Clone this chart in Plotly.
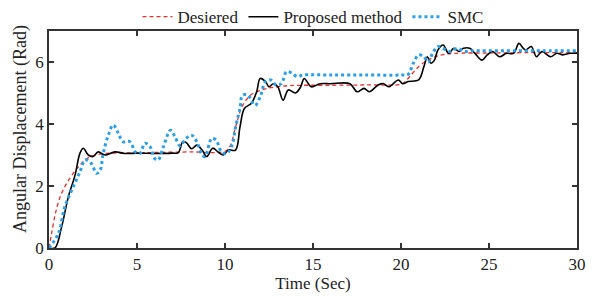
import plotly.graph_objects as go

# Desired trajectory
t_des = [0, 0.15, 0.4, 0.72, 1.2, 1.65, 2.2, 3.0, 4.0, 6.0, 8.0, 10.0, 10.3, 10.6, 11.0, 11.5, 12.0, 12.4, 13.0, 13.7, 16.0, 18.0, 20.0, 20.2, 20.6, 21.0, 21.5, 22.0, 22.4, 23.0, 25.0, 27.0, 30.0]
v_des = [0, 0.48, 1.2, 1.77, 2.26, 2.6, 2.9, 3.04, 3.06, 3.08, 3.1, 3.12, 3.3, 3.9, 4.6, 4.95, 5.08, 5.15, 5.2, 5.24, 5.25, 5.26, 5.28, 5.35, 5.6, 5.85, 6.05, 6.18, 6.24, 6.28, 6.29, 6.3, 6.3]

# Proposed method
t_pm = [0, 0.34, 0.72, 1.1, 1.48, 1.76, 1.95, 2.23, 2.5, 2.8, 3.18, 3.75, 4.3, 5.0, 6.0, 7.0, 7.35, 7.6, 7.8, 8.1, 8.4, 8.7, 8.96, 9.3, 9.6, 9.9, 10.2, 10.6, 10.85, 11.1, 11.5, 11.8, 12.0, 12.3, 12.5, 12.75, 13.0, 13.3, 13.6, 14.0, 14.3, 14.5, 14.9, 15.4, 16.0, 17.1, 17.5, 17.9, 18.2, 18.7, 19.0, 19.3, 19.85, 20.1, 20.4, 21.0, 21.3, 21.5, 21.7, 21.9, 22.1, 22.4, 22.7, 23.0, 23.3, 23.55, 23.9, 24.2, 24.6, 24.9, 25.2, 25.6, 26.0, 26.4, 26.7, 26.95, 27.1, 27.4, 27.7, 28.0, 28.5, 28.85, 29.2, 29.6, 30.0]
v_pm = [0, 0.0, 0.69, 1.65, 2.35, 3.06, 3.22, 3.0, 2.95, 3.1, 3.0, 3.1, 3.05, 3.06, 3.05, 3.06, 3.08, 3.43, 3.4, 3.2, 3.32, 3.16, 2.95, 3.22, 3.1, 3.0, 3.16, 3.16, 3.9, 4.5, 4.67, 5.04, 5.47, 5.37, 5.2, 5.3, 5.2, 4.77, 5.1, 5.0, 5.2, 5.47, 5.2, 5.3, 5.3, 5.3, 5.04, 5.15, 5.04, 5.26, 5.3, 5.2, 5.42, 5.3, 5.37, 5.42, 5.85, 6.17, 5.96, 6.06, 6.39, 6.55, 6.28, 6.44, 6.34, 6.44, 6.44, 6.28, 6.06, 6.23, 6.34, 6.17, 6.28, 6.28, 6.6, 6.44, 6.39, 6.5, 6.17, 6.34, 6.17, 6.28, 6.23, 6.28, 6.28]

# SMC
t_smc = [0, 0.53, 0.9, 1.38, 1.76, 2.05, 2.4, 2.7, 2.9, 3.08, 3.37, 3.65, 3.94, 4.2, 4.6, 4.9, 5.17, 5.45, 5.74, 6.0, 6.2, 6.5, 6.9, 7.16, 7.44, 7.8, 8.1, 8.4, 8.7, 8.87, 9.25, 9.5, 9.8, 10.1, 10.4, 10.6, 10.85, 11.0, 11.3, 11.7, 12.0, 12.3, 12.6, 12.9, 13.2, 13.5, 13.8, 14.1, 14.45, 16.0, 18.0, 20.0, 20.4, 20.7, 21.0, 21.3, 21.55, 21.8, 22.1, 22.4, 22.8, 23.2, 23.6, 24.0, 26.0, 28.0, 30.0]
v_smc = [0, 0.47, 1.33, 1.98, 2.46, 2.84, 2.73, 2.41, 2.5, 3.05, 3.64, 3.97, 3.7, 3.43, 3.43, 3.1, 3.05, 3.38, 3.27, 2.89, 2.84, 3.27, 3.8, 3.59, 3.3, 3.54, 3.64, 3.43, 3.0, 2.95, 3.54, 3.48, 3.1, 3.05, 3.32, 3.9, 4.5, 4.93, 4.93, 4.6, 4.88, 5.37, 5.42, 5.26, 5.3, 5.69, 5.64, 5.53, 5.58, 5.58, 5.58, 5.58, 5.6, 5.96, 6.23, 6.17, 6.0, 6.28, 6.5, 6.44, 6.34, 6.44, 6.34, 6.36, 6.36, 6.36, 6.36]

x_ticks = [0, 5, 10, 15, 20, 25, 30]
y_ticks = [0, 2, 4, 6]

font = dict(family="Liberation Serif, Times New Roman, serif", size=17, color="#222")
font_big = dict(family="Liberation Serif, Times New Roman, serif", size=18, color="#222")

fig = go.Figure()
fig.add_trace(go.Scatter(x=t_des, y=v_des, mode="lines", name="Desiered",
                         line=dict(color="#e6302c", width=1.3, dash="4px,3px", shape="spline")))
fig.add_trace(go.Scatter(x=t_pm, y=v_pm, mode="lines", name="Proposed method",
                         line=dict(color="black", width=1.6, shape="spline")))
fig.add_trace(go.Scatter(x=t_smc, y=v_smc, mode="lines", name="SMC",
                         line=dict(color="#2a9fe8", width=3, dash="dot", shape="spline")))

axis_common = dict(showgrid=False, zeroline=False, showline=True, linecolor="#333",
                   linewidth=1.5, mirror="ticks", ticks="inside", ticklen=5,
                   tickcolor="#333", tickwidth=1.5, tickfont=font, automargin=False)
fig.update_xaxes(range=[0, 30], tickvals=x_ticks, title=dict(text="Time (Sec)", font=font, standoff=2), **axis_common)
fig.update_yaxes(range=[0, 7], tickvals=y_ticks, **axis_common)

fig.add_annotation(text="Angular Displacement (Rad)", xref="paper", yref="paper",
                   x=-0.055, y=0.548, xanchor="center", yanchor="middle",
                   textangle=-90, showarrow=False, font=font_big)

fig.update_layout(
    width=593, height=296,
    margin=dict(l=49, r=16, t=31, b=48, autoexpand=False),
    paper_bgcolor="white", plot_bgcolor="white",
    font=font,
    showlegend=True,
    legend=dict(orientation="h", x=0.5, xanchor="center",
                yref="container", y=0.942, yanchor="middle",
                font=font, bgcolor="rgba(0,0,0,0)", itemwidth=30, tracegroupgap=0),
)

fig.write_html("out.html", config={"displayModeBar": False},
               post_script="document.body.style.margin='0';document.body.style.overflow='hidden';")
